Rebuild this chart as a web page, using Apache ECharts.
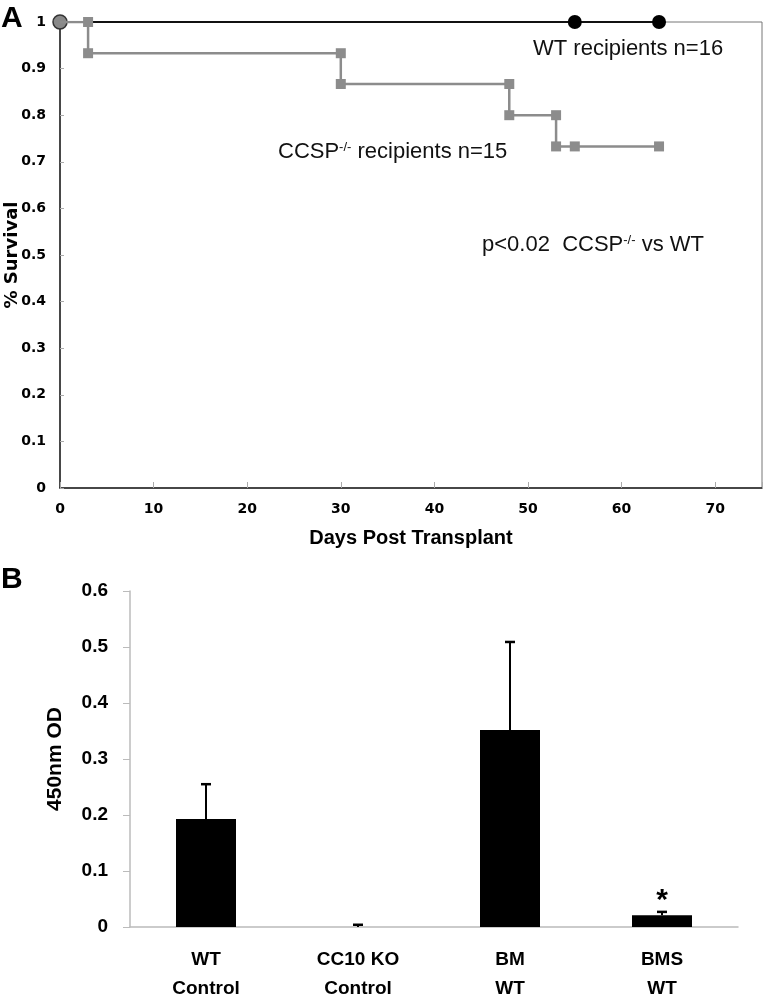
<!DOCTYPE html>
<html>
<head>
<meta charset="utf-8">
<script src="https://cdn.jsdelivr.net/npm/echarts@6/dist/echarts.min.js"></script>
<style>
  html, body { margin: 0; padding: 0; background: #fff; }
  #chart { width: 763px; height: 995px; }
</style>
</head>
<body>
<div id="chart"></div>
<script>
// panel A: Kaplan-Meier survival
const daysWT = [0, 55, 64]
const survWT = [1, 1, 1]
const daysCCSP = [0, 3, 3, 30, 30, 48, 48, 53, 53, 55, 64]
const survCCSP = [1, 1, 0.933, 0.933, 0.867, 0.867, 0.8, 0.8, 0.733, 0.733, 0.733]

// panel B: 450nm OD bars
const groups = ['WT\nControl', 'CC10 KO\nControl', 'BM\nWT', 'BMS\nWT']
const odMeans = [0.193, 0, 0.352, 0.021]
const odErrors = [0.062, 0.004, 0.157, 0.006]
const sigMarks = ['', '', '', '*']

const chart = echarts.init(document.getElementById('chart'))

const boldVerdana = { fontFamily: 'DejaVu Sans', fontWeight: 'bold', color: '#000' }
const boldArial = { fontFamily: 'Liberation Sans', fontWeight: 'bold', color: '#000' }

const options = {
    animation: false,
    backgroundColor: '#fff',
    grid: [
        { left: 60, top: 22, width: 702, height: 466, show: true, borderColor: '#777', borderWidth: 1, containLabel: false, outerBoundsMode: 'none' },
        { left: 130, top: 591, width: 608, height: 336, containLabel: false, outerBoundsMode: 'none' }
    ],
    xAxis: [
        {
            gridIndex: 0, type: 'value', min: 0, max: 75, interval: 10,
            name: 'Days Post Transplant', nameLocation: 'middle', nameGap: 40,
            nameTextStyle: { ...boldArial, fontSize: 20 },
            axisLine: { lineStyle: { color: '#222', width: 1.5 } },
            axisTick: { inside: true, length: 6, lineStyle: { color: '#aaa' } },
            axisLabel: { ...boldVerdana, fontSize: 14, margin: 14, formatter: v => (v % 10 === 0 ? v : '') },
            splitLine: { show: false }
        },
        {
            gridIndex: 1, type: 'category', data: groups,
            axisLine: { lineStyle: { color: '#bbb', width: 1.5 } },
            axisTick: { length: 8, lineStyle: { color: '#bbb' } },
            axisLabel: { ...boldArial, fontSize: 19, lineHeight: 29, margin: 18 }
        }
    ],
    yAxis: [
        {
            gridIndex: 0, type: 'value', min: 0, max: 1, interval: 0.1,
            name: '% Survival', nameLocation: 'middle', nameGap: 39, nameRotate: 90, nameMoveOverlap: false,
            nameTextStyle: { ...boldVerdana, fontSize: 18 },
            axisLine: { show: true, lineStyle: { color: '#222', width: 1.5 } },
            axisTick: { show: true, inside: true, length: 4, lineStyle: { color: '#aaa' } },
            axisLabel: { ...boldVerdana, fontSize: 14, margin: 14, formatter: v => String(+v.toFixed(1)) },
            splitLine: { show: false }
        },
        {
            gridIndex: 1, type: 'value', min: 0, max: 0.6, interval: 0.1,
            name: '450nm OD', nameLocation: 'middle', nameGap: 64, nameRotate: 90,
            nameTextStyle: { ...boldArial, fontSize: 21 },
            axisLine: { show: true, lineStyle: { color: '#bbb', width: 1.5 } },
            axisTick: { show: true, length: 7, lineStyle: { color: '#bbb' } },
            axisLabel: { ...boldArial, fontSize: 19, margin: 22, formatter: v => String(+v.toFixed(1)) },
            splitLine: { show: false }
        }
    ],
    series: [
        {
            name: 'WT recipients', type: 'line', xAxisIndex: 0, yAxisIndex: 0,
            data: daysWT.map((d, i) => {
                if (i === 0) return { value: [d, survWT[i]], itemStyle: { color: '#888', borderColor: '#333', borderWidth: 1.5 } }
                return [d, survWT[i]]
            }),
            symbol: 'circle', symbolSize: 14,
            lineStyle: { color: '#111', width: 2 },
            itemStyle: { color: '#000' },
            z: 2
        },
        {
            name: 'CCSP-/- recipients', type: 'line', xAxisIndex: 0, yAxisIndex: 0,
            data: daysCCSP.map((d, i) => (i === 0 ? { value: [d, survCCSP[i]], symbolSize: 0 } : [d, survCCSP[i]])),
            symbol: 'rect', symbolSize: 10,
            lineStyle: { color: '#8c8c8c', width: 2.5 },
            itemStyle: { color: '#8c8c8c' },
            z: 3
        },
        {
            type: 'bar', xAxisIndex: 1, yAxisIndex: 1,
            data: odMeans,
            barWidth: 60,
            itemStyle: { color: '#000' },
            label: {
                show: true, position: 'top', distance: 0,
                formatter: p => sigMarks[p.dataIndex],
                fontFamily: 'Liberation Sans', fontWeight: 'bold', fontSize: 30, color: '#000'
            }
        },
        {
            type: 'custom', xAxisIndex: 1, yAxisIndex: 1,
            data: odMeans.map((m, i) => [i, m, m + odErrors[i]]),
            encode: { x: 0, y: [1, 2] },
            z: 5,
            renderItem: (params, api) => {
                const base = api.coord([api.value(0), api.value(1)])
                const top = api.coord([api.value(0), api.value(2)])
                return {
                    type: 'group',
                    children: [
                        { type: 'line', shape: { x1: top[0], y1: base[1], x2: top[0], y2: top[1] }, style: { stroke: '#000', lineWidth: 2 } },
                        { type: 'line', shape: { x1: top[0] - 5, y1: top[1], x2: top[0] + 5, y2: top[1] }, style: { stroke: '#000', lineWidth: 2.5 } }
                    ]
                }
            }
        }
    ],
    graphic: [
        { type: 'text', x: 1, y: 19, style: { text: 'A', fontFamily: 'Liberation Sans', fontWeight: 'bold', fontSize: 30, fill: '#000', textVerticalAlign: 'middle' } },
        { type: 'text', x: 1, y: 580, style: { text: 'B', fontFamily: 'Liberation Sans', fontWeight: 'bold', fontSize: 30, fill: '#000', textVerticalAlign: 'middle' } },
        { type: 'text', x: 533, y: 49, style: { text: 'WT recipients n=16', fontFamily: 'Liberation Sans', fontSize: 22, fill: '#111', textVerticalAlign: 'middle' } },
        {
            type: 'text', x: 278, y: 152,
            style: {
                text: '{a|CCSP}{s|-/-}{a| recipients n=15}', textVerticalAlign: 'middle',
                rich: {
                    a: { fontFamily: 'Liberation Sans', fontSize: 22, fill: '#111', color: '#111' },
                    s: { fontFamily: 'Liberation Sans', fontSize: 13, fill: '#111', color: '#111', verticalAlign: 'top', padding: [0, 0, 10, 0] }
                }
            }
        },
        {
            type: 'text', x: 482, y: 245,
            style: {
                text: '{a|p<0.02  CCSP}{s|-/-}{a| vs WT}', textVerticalAlign: 'middle',
                rich: {
                    a: { fontFamily: 'Liberation Sans', fontSize: 22, fill: '#111', color: '#111' },
                    s: { fontFamily: 'Liberation Sans', fontSize: 13, fill: '#111', color: '#111', verticalAlign: 'top', padding: [0, 0, 10, 0] }
                }
            }
        }
    ]
}

chart.setOption(options)
</script>
</body>
</html>
